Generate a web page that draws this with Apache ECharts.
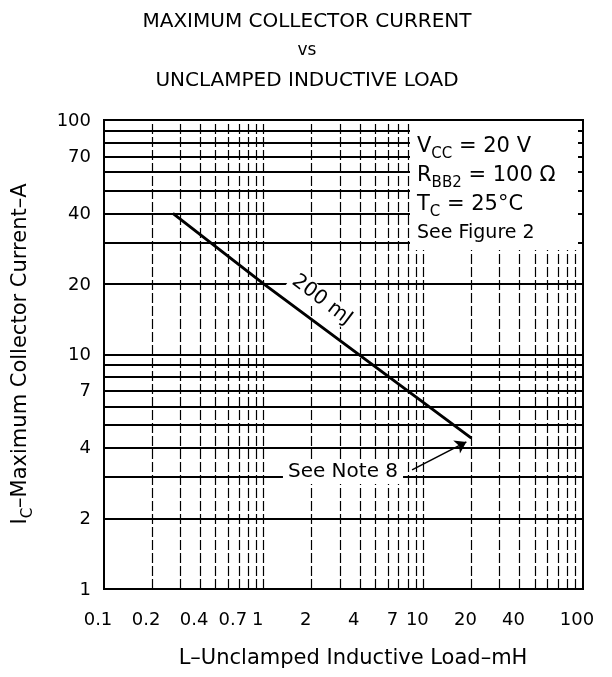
<!DOCTYPE html>
<html><head><meta charset="utf-8">
<script src="https://cdn.jsdelivr.net/npm/echarts@6/dist/echarts.min.js"></script>
<style>html,body{margin:0;padding:0;background:#fff}#c{width:612px;height:677px}</style>
</head><body><div id="c"></div>
<script>
// ---- data ----
const xTickValues = [0.1, 0.2, 0.4, 0.7, 1, 2, 4, 7, 10, 20, 40, 100];
const xTickText = ['0.1', '0.2', '0.4', '0.7', '1', '2', '4', '7', '10', '20', '40', '100'];
const yTickValues = [1, 2, 4, 7, 10, 20, 40, 70, 100];
const yTickText = ['1', '2', '4', '7', '10', '20', '40', '70', '100'];
const xGridValues = [0.2, 0.3, 0.4, 0.5, 0.6, 0.7, 0.8, 0.9, 1, 2, 3, 4, 5, 6, 7, 8, 9, 10, 20, 30, 40, 50, 60, 70, 80, 90];
const yGridValues = [2, 3, 4, 5, 6, 7, 8, 9, 10, 20, 30, 40, 50, 60, 70, 80, 90];
const inductanceMH = [0.27, 1, 20];
const currentA = [40, 20, 4.4];
const noteArrowFrom = [8.5, 3.22];
const noteArrowTo = [18.6, 4.24];

const F = 'DejaVu Sans';
const chart = echarts.init(document.getElementById('c'), null, {renderer: 'canvas'});

const sub = {fontSize: 15, fontFamily: F, color: '#000', verticalAlign: 'bottom', lineHeight: 30};
const main = {fontSize: 21, fontFamily: F, color: '#000', verticalAlign: 'middle', lineHeight: 30};

function txt(x, y, text, extra) {
  return {
    type: 'text', x: x, y: y, z: 101,
    style: Object.assign({text: text, fill: '#000', font: '20px "DejaVu Sans"', align: 'center', verticalAlign: 'middle'}, extra || {})
  };
}

const staticGraphics = [
  {type: 'rect', z: 100, shape: {x: 410, y: 122, width: 168, height: 128}, style: {fill: '#fff'}},
  txt(307, 22, 'MAXIMUM COLLECTOR CURRENT', {font: '20px "DejaVu Sans"'}),
  txt(307, 51, 'vs', {font: '17px "DejaVu Sans"'}),
  txt(307, 81, 'UNCLAMPED INDUCTIVE LOAD', {font: '20px "DejaVu Sans"'}),
  txt(353, 659, 'L–Unclamped Inductive Load–mH', {font: '21px "DejaVu Sans"'}),
  {type: 'text', x: 21, y: 354, rotation: Math.PI / 2, z: 101,
    style: {text: '{m|I}{s|C}{m|–Maximum Collector Current–A}', align: 'center', verticalAlign: 'middle',
      rich: {m: main, s: sub}}},
  {type: 'text', x: 417, y: 147, z: 101,
    style: {text: '{m|V}{s|CC}{m| = 20 V}', align: 'left', verticalAlign: 'middle', rich: {m: main, s: sub}}},
  {type: 'text', x: 417, y: 176, z: 101,
    style: {text: '{m|R}{s|BB2}{m| = 100 Ω}', align: 'left', verticalAlign: 'middle', rich: {m: main, s: sub}}},
  {type: 'text', x: 417, y: 205, z: 101,
    style: {text: '{m|T}{s|C}{m| = 25°C}', align: 'left', verticalAlign: 'middle', rich: {m: main, s: sub}}},
  txt(417, 233, 'See Figure 2', {font: '19px "DejaVu Sans"', align: 'left'}),
  {type: 'text', x: 322, y: 300, rotation: -0.65, z: 101,
    style: {text: '200 mJ', font: '20px "DejaVu Sans"', fill: '#000', align: 'center', verticalAlign: 'middle',
      backgroundColor: '#fff', padding: [0, 3]}},
  txt(343, 472, 'See Note 8', {font: '20px "DejaVu Sans"', backgroundColor: '#fff', padding: [2, 5]})
];

const option = {
  animation: false,
  backgroundColor: '#fff',
  grid: {left: 104, right: 29, top: 120, bottom: 88, show: true, borderColor: '#000', borderWidth: 2, backgroundColor: 'rgba(0,0,0,0)'},
  xAxis: {type: 'log', logBase: 10, min: 0.1, max: 100,
    axisLine: {show: false}, axisTick: {show: false}, axisLabel: {show: false}, splitLine: {show: false}},
  yAxis: {type: 'log', logBase: 10, min: 1, max: 100,
    axisLine: {show: false}, axisTick: {show: false}, axisLabel: {show: false}, splitLine: {show: false}},
  series: [
    {type: 'line', data: [], silent: true,
      markLine: {silent: true, symbol: 'none', label: {show: false}, animation: false,
        lineStyle: {color: '#000', width: 2, type: 'solid'},
        data: yGridValues.map(v => ({yAxis: v}))}},
    {type: 'line', data: [], silent: true,
      markLine: {silent: true, symbol: 'none', label: {show: false}, animation: false,
        lineStyle: {color: '#000', width: 1.2, type: [10, 3]},
        data: xGridValues.map(v => ({xAxis: v}))}},
    {type: 'line', z: 5, data: inductanceMH.map((l, i) => [l, currentA[i]]), symbol: 'none',
      lineStyle: {color: '#000', width: 3}},
    {type: 'line', data: [], silent: true, z: 6,
      markLine: {silent: true, symbol: ['none', 'arrow'], symbolSize: 11, label: {show: false}, animation: false,
        lineStyle: {color: '#000', width: 1.6, type: 'solid'},
        data: [[{coord: noteArrowFrom}, {coord: noteArrowTo}]]}}
  ],
  graphic: staticGraphics
};
chart.setOption(option);

// tick labels placed through the chart's own log scales
const tickGraphics = [];
xTickValues.forEach((v, i) => {
  const p = chart.convertToPixel({gridIndex: 0}, [v, 1]);
  tickGraphics.push(txt(p[0] - 6, p[1] + 31, xTickText[i], {font: '18px "DejaVu Sans"'}));
});
yTickValues.forEach((v, i) => {
  const p = chart.convertToPixel({gridIndex: 0}, [0.1, v]);
  tickGraphics.push(txt(p[0] - 13, p[1] + 1, yTickText[i], {font: '18px "DejaVu Sans"', align: 'right'}));
});
chart.setOption({graphic: staticGraphics.concat(tickGraphics)});
</script></body></html>
